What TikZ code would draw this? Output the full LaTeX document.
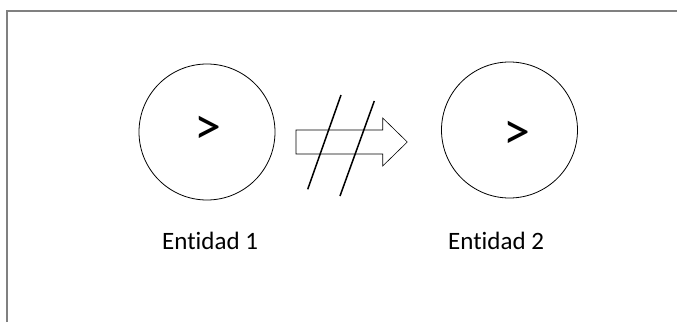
\documentclass[tikz,border=0pt]{standalone}
\usepackage{fontspec}
\setmainfont{Carlito}[Ligatures=NoCommon]
\begin{document}
\begin{tikzpicture}[x=1pt,y=-1pt,
  frame/.style={draw=black!50,line width=1.3pt},
  ent/.style={circle,draw=black,line width=0.8pt,minimum size=136pt,inner sep=0pt},
  sym/.style={font=\fontsize{54}{54}\selectfont,inner sep=0pt},
  lbl/.style={font=\fontsize{25}{28}\selectfont,anchor=base west,inner sep=0pt},
  blockarrow/.style={draw=black,line width=0.6pt,fill=white},
  slash/.style={draw=black,line width=1.5pt}]
\useasboundingbox (0,0) rectangle (678,322);
\coordinate (fl) at (7,322);
\coordinate (fc) at (7,11);
\coordinate (fr) at (677,11);
\draw[frame] (fl) -- (fc) -- (fr);
\node[ent] (c1) at (207,132) {};
\node[ent] (c2) at (509.5,130) {};
\node[sym] (g1) at (207.5,130.5) {>};
\node[sym] (g2) at (516.5,135) {>};
\node[lbl] (l1) at (162,249) {Entidad 1};
\node[lbl] (l2) at (448,249) {Entidad 2};
\draw[blockarrow] (296,130) -- (382.7,130) -- (382.7,118) -- (407.3,142) -- (382.7,166) -- (382.7,154) -- (296,154) -- cycle;
\coordinate (s1a) at (307.7,189.3);
\coordinate (s1b) at (341,95);
\coordinate (s2a) at (340,196);
\coordinate (s2b) at (374.3,101);
\draw[slash] (s1a) -- (s1b);
\draw[slash] (s2a) -- (s2b);
\end{tikzpicture}
\end{document}
